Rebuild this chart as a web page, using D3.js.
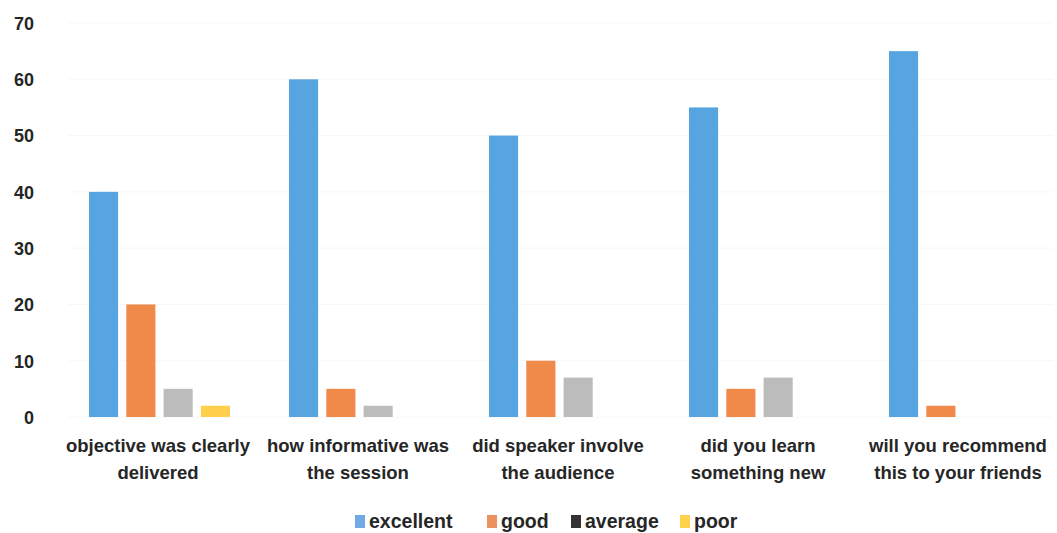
<!DOCTYPE html>
<html><head><meta charset="utf-8">
<script src="https://cdn.jsdelivr.net/npm/d3@7/dist/d3.min.js"></script>
<style>
html,body{margin:0;padding:0;background:#fff;}
svg text{font-family:"Liberation Sans Narrow","Arial Narrow","Liberation Sans",sans-serif;font-weight:bold;fill:#262626;}
</style></head>
<body>
<svg id="chart" width="1057" height="533"></svg>
<script>
const categories = [
  ["objective was clearly", "delivered"],
  ["how informative was", "the session"],
  ["did speaker involve", "the audience"],
  ["did you learn", "something new"],
  ["will you recommend", "this to your friends"]
];
const seriesNames = ["excellent", "good", "average", "poor"];
const excellent = [40, 60, 50, 55, 65];
const good = [20, 5, 10, 5, 2];
const average = [5, 2, 7, 7, 0];
const poor = [2, 0, 0, 0, 0];
const yTicks = [0, 10, 20, 30, 40, 50, 60, 70];

const barColors = ["#57A5E0", "#F08A4B", "#BDBCBC", "#FFCF4D"];
const legendColors = ["#6FAAE6", "#EC9160", "#333333", "#FFD24D"];
const seriesValues = [excellent, good, average, poor];

(function () {
const svg = d3.select("#chart");
const mLeft = 58, mRight = 1058, mTop = 23, mBottom = 417;

const x0 = d3.scaleBand().domain(d3.range(categories.length)).range([mLeft, mRight]).paddingInner(0).paddingOuter(0);
const x1 = d3.scaleBand().domain(d3.range(seriesNames.length)).range([31, 172]).paddingInner(0.22).paddingOuter(0);
const y = d3.scaleLinear().domain([0, 70]).range([mBottom, mTop]);

svg.append("g").selectAll("line").data(yTicks).join("line")
  .attr("x1", mLeft + 10).attr("x2", mRight - 5)
  .attr("y1", d => y(d)).attr("y2", d => y(d))
  .attr("stroke", "#f7f7f7").attr("stroke-width", 1);

const yAxis = d3.axisLeft(y).tickValues(yTicks).tickSize(0).tickPadding(0);
const gy = svg.append("g").attr("transform", "translate(34,0)").call(yAxis);
gy.select(".domain").remove();
gy.selectAll("text").attr("font-size", 18).style("fill", "#262626").attr("dy", "0.35em")
  .style("font-family", '"Liberation Sans",Arial,sans-serif').style("font-weight", "bold");

const groups = svg.append("g").selectAll("g").data(categories).join("g")
  .attr("transform", (d, i) => `translate(${x0(i)},0)`);
groups.selectAll("rect").data((d, i) => seriesValues.map((s, j) => ({j, v: s[i]})).filter(e => e.v > 0))
  .join("rect")
  .attr("x", d => x1(d.j))
  .attr("width", x1.bandwidth())
  .attr("y", d => y(d.v))
  .attr("height", d => y(0) - y(d.v))
  .attr("fill", d => barColors[d.j]);

const labels = svg.append("g").selectAll("text").data(categories).join("text")
  .attr("text-anchor", "middle")
  .attr("font-size", 18.5)
  .attr("x", (d, i) => x0(i) + x0.bandwidth() / 2);
labels.selectAll("tspan").data(d => d).join("tspan")
  .attr("x", function() { return d3.select(this.parentNode).attr("x"); })
  .attr("y", (d, k) => 452 + k * 27)
  .text(d => d);

const legendX = [355, 487, 571, 680];
const lg = svg.append("g").selectAll("g").data(seriesNames).join("g")
  .attr("transform", (d, i) => `translate(${legendX[i]},521)`);
lg.append("rect").attr("x", 0).attr("y", -6).attr("width", 10).attr("height", 13)
  .attr("fill", (d, i) => legendColors[i]);
lg.append("text").attr("x", 14).attr("dy", "0.35em").attr("font-size", 19.5).text(d => d);
})();
</script>
</body></html>
